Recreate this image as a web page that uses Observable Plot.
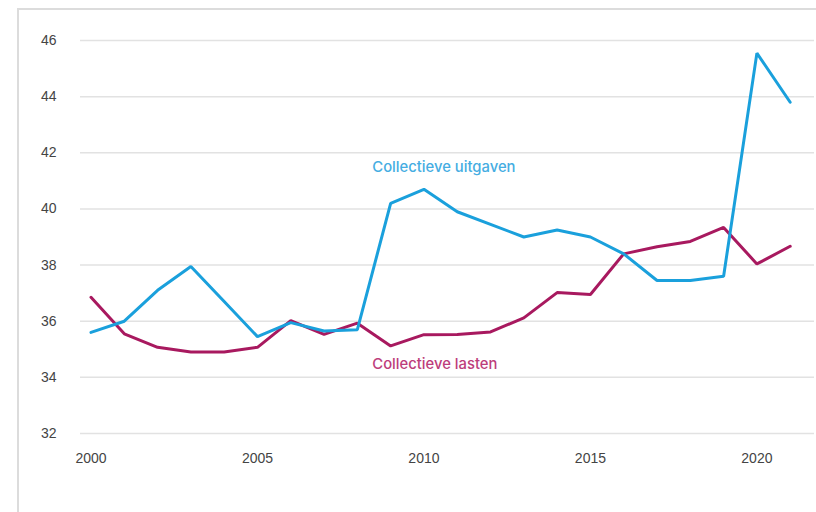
<!DOCTYPE html>
<html>
<head>
<meta charset="utf-8">
<script src="https://cdn.jsdelivr.net/npm/d3@7"></script>
<script src="https://cdn.jsdelivr.net/npm/@observablehq/plot@0.6"></script>
<style>
  html, body { margin: 0; padding: 0; background: #fff; }
  #wrap { position: relative; width: 816px; height: 512px; overflow: hidden; }
  #frame { position: absolute; left: 17px; top: 8px; width: 830px; height: 520px;
           border-left: 2px solid #dcdcdc; border-top: 2px solid #dcdcdc; pointer-events: none; }
  svg { display: block; }
</style>
</head>
<body>
<div id="wrap"><div id="frame"></div></div>
<script>
const years = [2000,2001,2002,2003,2004,2005,2006,2007,2008,2009,2010,2011,2012,2013,2014,2015,2016,2017,2018,2019,2020,2021];
const uitgaven = [35.6,36.0,37.1,37.95,36.7,35.45,35.95,35.65,35.7,40.2,40.7,39.9,39.45,39.0,39.25,39.0,38.4,37.45,37.45,37.6,45.55,43.8];
const lasten = [36.85,35.55,35.07,34.9,34.9,35.07,36.02,35.53,35.93,35.12,35.52,35.53,35.62,36.12,37.02,36.95,38.4,38.65,38.84,39.34,38.04,38.67];
const yTicks = [32,34,36,38,40,42,44,46];
const xTicks = [2000,2005,2010,2015,2020];
const seriesNames = ["Collectieve uitgaven","Collectieve lasten"];
const labelPos = [{x: 2008.45, y: 41.47}, {x: 2008.45, y: 34.46}];

const lineColors = ["#1aa0dc", "#a8195f"];
const textColors = ["#45ade2", "#bd3d7b"];

const rowsU = years.map((yr, i) => ({year: yr, value: uitgaven[i]}));
const rowsL = years.map((yr, i) => ({year: yr, value: lasten[i]}));
const labels = seriesNames.map((name, i) => ({name, x: labelPos[i].x, y: labelPos[i].y, color: textColors[i]}));

const tickFont = "'Liberation Sans', Arial, sans-serif";
const labelFont = "Inter, 'Open Sans', sans-serif";

const chart = Plot.plot({
  width: 816,
  height: 512,
  marginLeft: 80,
  marginRight: 2,
  marginTop: 40,
  marginBottom: 79,
  style: {fontFamily: tickFont, fontSize: "14px", background: "transparent", color: "#444"},
  x: {domain: [1999.685, 2021.73], ticks: xTicks, tickFormat: d => String(d), tickSize: 0, tickPadding: 20, label: null},
  y: {domain: [32, 46], ticks: yTicks, tickSize: 0, tickPadding: 24, label: null},
  marks: [
    Plot.ruleY(yTicks, {stroke: "#e2e2e2", strokeWidth: 1.5}),
    Plot.axisX({ticks: xTicks, tickFormat: d => String(d), tickSize: 0, tickPadding: 20, label: null, fontSize: 14, fill: "#444"}),
    Plot.axisY({ticks: yTicks, tickSize: 0, tickPadding: 24, label: null, fontSize: 14, fill: "#444"}),
    Plot.line(rowsL, {x: "year", y: "value", stroke: lineColors[1], strokeWidth: 3, strokeLinejoin: "miter"}),
    Plot.line(rowsU, {x: "year", y: "value", stroke: lineColors[0], strokeWidth: 3, strokeLinejoin: "miter"}),
    Plot.text(labels, {x: "x", y: "y", text: "name", fill: "color", textAnchor: "start", fontFamily: labelFont, fontSize: 14.8, fontWeight: 500})
  ]
});
document.getElementById("wrap").insertBefore(chart, document.getElementById("frame"));
</script>
</body>
</html>
